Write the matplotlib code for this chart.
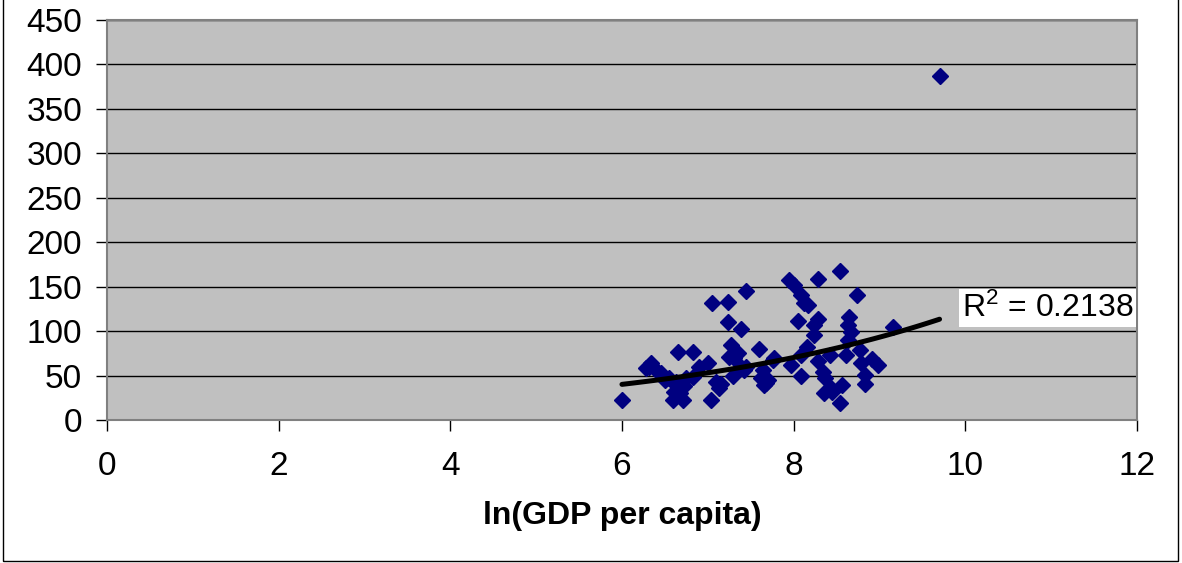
import numpy as np
import matplotlib
matplotlib.use("Agg")
import matplotlib.pyplot as plt
from matplotlib.patches import Rectangle

plt.rcParams['font.family'] = ['Liberation Sans', 'DejaVu Sans']

# ln(GDP per capita) vs value
gdp_ln = [6.00, 6.31, 6.28, 6.34, 6.40, 6.46, 6.55, 6.65, 6.83, 6.59,
          6.71, 6.65, 6.63, 6.75, 6.83, 6.61, 6.90, 7.00, 7.10, 7.13,
          7.04, 7.24, 7.27, 7.25, 7.05, 7.23, 7.44, 7.39, 7.60, 7.31,
          7.42, 7.29, 7.62, 7.66, 7.77, 7.97, 8.09, 8.05, 7.95, 8.01,
          8.09, 8.12, 7.35, 7.39, 7.70, 7.64, 8.17, 8.28, 8.54, 8.74,
          8.28, 8.24, 8.24, 8.65, 8.63, 8.67, 8.63, 8.15, 8.09, 7.76,
          8.28, 8.34, 8.36, 8.44, 8.56, 8.54, 8.42, 8.61, 8.77, 8.79,
          8.91, 8.98, 8.83, 8.83, 9.16, 9.70,
          6.62, 6.68, 6.72, 7.15, 7.45, 8.35, 8.45, 6.50, 7.68]
values = [23, 60, 58, 64, 56, 53, 47, 76, 76, 22,
          22, 36, 43, 47, 48, 32, 60, 64, 43, 36,
          22, 110, 84, 71, 132, 133, 145, 102, 80, 70,
          56, 49, 47, 39, 70, 62, 49, 111, 158, 152,
          141, 132, 75, 60, 45, 56, 129, 159, 168, 141,
          114, 107, 96, 116, 107, 99, 90, 82, 73, 67,
          66, 54, 47, 36, 39, 19, 73, 73, 79, 64,
          69, 62, 51, 41, 105, 387,
          40, 30, 38, 40, 60, 30, 32, 45, 42]
r2_label = r"$\mathregular{R^2}$ = 0.2138"

x = np.array(gdp_ln)
y = np.array(values)

# exponential trendline like Excel: ln y = a + b x
b, a = np.polyfit(x, np.log(y), 1)
xt = np.linspace(x.min(), x.max(), 100)
yt = np.exp(a + b * xt)

fig = plt.figure(figsize=(11.82, 5.63), dpi=100)
ax = fig.add_axes([0.0905, 0.254, 0.8714, 0.7105])
ax.set_facecolor('#c0c0c0')

ax.set_yticks(np.arange(0, 451, 50))
ax.set_xticks(np.arange(0, 13, 2))
ax.set_xlim(0, 12)
ax.set_ylim(0, 450)
ax.yaxis.grid(True, color='black', linewidth=1.0)
ax.set_axisbelow(True)

ax.plot(x, y, linestyle='none', marker='D', markersize=8.2, color='#000080', zorder=3)
ax.plot(xt, yt, color='black', linewidth=3.6, solid_capstyle='round', zorder=4)

ax.text(9.96, 126, r2_label, fontsize=23, ha='left', va='center', zorder=5,
        bbox=dict(facecolor='white', edgecolor='none', pad=2))

for s in ax.spines.values():
    s.set_color('#808080')
    s.set_linewidth(1.5)

ax.tick_params(axis='both', labelsize=24, length=8, width=1, color='black', direction='out')
ax.tick_params(axis='x', pad=14)
ax.tick_params(axis='y', pad=10)
ax.set_xlabel('ln(GDP per capita)', fontsize=23, fontweight='bold', labelpad=14)

fig.patches.append(Rectangle((0.0025, 0.004), 0.994, 1.0, transform=fig.transFigure,
                             fill=False, edgecolor='black', linewidth=1.0))

fig.savefig('out.png', dpi=100)
